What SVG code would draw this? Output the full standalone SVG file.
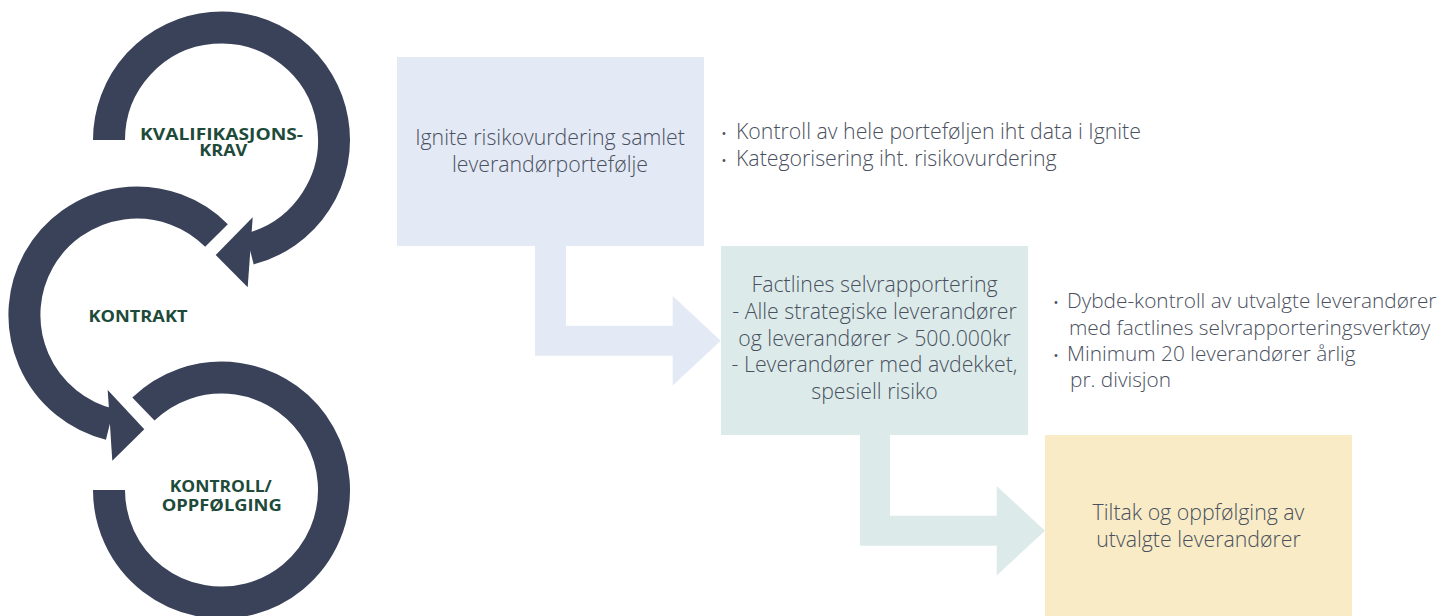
<svg xmlns="http://www.w3.org/2000/svg" width="1448" height="616" viewBox="0 0 1448 616">
<style>
.ring{fill:none;stroke:#394259;stroke-width:32;stroke-linecap:butt}
.head{fill:#394259}
.lbl{font-family:"Open Sans","Liberation Sans",sans-serif;font-weight:700;font-size:16px;fill:#1e4a3a;text-anchor:middle}
.t{font-family:"Open Sans","Liberation Sans",sans-serif;font-weight:300;font-size:21.3px;fill:#4a505e}
.s{font-size:20.8px}
.c{text-anchor:middle}
.b{font-family:"Open Sans","Liberation Sans",sans-serif;font-size:13px;fill:#4a505e}
</style>
<rect width="1448" height="616" fill="#ffffff"/>
<g id="connectors">
<path d="M535,246 H566 V325.7 H672.7 V296 L720.7,340.7 L672.7,385.4 V355.7 H535 Z" fill="#e3e9f5"/>
<path d="M860,435 H890 V515.7 H996.7 V486 L1045,530.7 L996.7,575.4 V545.7 H860 Z" fill="#dcebea"/>
</g>
<g id="ring-kvalifikasjonskrav">
<path class="ring" d="M109,140 A112.5,112.5 0 1 1 249.7,248.9"/>
<polygon class="head" points="252.7,217.3 215.7,255 247.7,287.3"/>
<text class="lbl" x="221.5" y="139.5" textLength="163" lengthAdjust="spacingAndGlyphs">KVALIFIKASJONS-</text>
<text class="lbl" x="223.3" y="155.8" textLength="48" lengthAdjust="spacingAndGlyphs">KRAV</text>
</g>
<g id="ring-kontrakt">
<path class="ring" d="M216.5,235.5 A112.5,112.5 0 1 0 109.8,424.2"/>
<polygon class="head" points="107.7,390 144.3,429.3 112.3,460.7"/>
<text class="lbl" x="138" y="322" textLength="99" lengthAdjust="spacingAndGlyphs">KONTRAKT</text>
</g>
<g id="ring-kontroll">
<path class="ring" d="M143.4,409.1 A112.5,112.5 0 1 1 109,490"/>
<text class="lbl" x="220.8" y="491.5" textLength="102" lengthAdjust="spacingAndGlyphs">KONTROLL/</text>
<text class="lbl" x="221.7" y="510.5" textLength="120" lengthAdjust="spacingAndGlyphs">OPPFØLGING</text>
</g>
<g id="box-ignite">
<rect x="397" y="57" width="307" height="189" fill="#e3e9f5"/>
<text class="t c" x="550" y="145">Ignite risikovurdering samlet</text>
<text class="t c" x="550" y="172">leverandørportefølje</text>
</g>
<g id="notes-ignite">
<text class="b" x="721.5" y="138">•</text>
<text class="t" x="736" y="139">Kontroll av hele porteføljen iht data i Ignite</text>
<text class="b" x="721.5" y="165">•</text>
<text class="t" x="736" y="166">Kategorisering iht. risikovurdering</text>
</g>
<g id="box-factlines">
<rect x="721" y="246" width="307" height="189" fill="#dcebea"/>
<text class="t c" x="874.5" y="292">Factlines selvrapportering</text>
<text class="t c" x="874.5" y="319">- Alle strategiske leverandører</text>
<text class="t c" x="874.5" y="345.5">og leverandører &gt; 500.000kr</text>
<text class="t c" x="874.5" y="372">- Leverandører med avdekket,</text>
<text class="t c" x="874.5" y="398.5">spesiell risiko</text>
</g>
<g id="notes-factlines">
<text class="b" x="1053.5" y="307">•</text>
<text class="t s" x="1067" y="308">Dybde-kontroll av utvalgte leverandører</text>
<text class="t s" x="1069" y="334.5">med factlines selvrapporteringsverktøy</text>
<text class="b" x="1053.5" y="360">•</text>
<text class="t s" x="1067" y="361">Minimum 20 leverandører årlig</text>
<text class="t s" x="1070" y="387">pr. divisjon</text>
</g>
<g id="box-tiltak">
<rect x="1045" y="435" width="307" height="189" fill="#f8ebc5"/>
<text class="t c" x="1198.5" y="520">Tiltak og oppfølging av</text>
<text class="t c" x="1198.5" y="547">utvalgte leverandører</text>
</g>
</svg>
